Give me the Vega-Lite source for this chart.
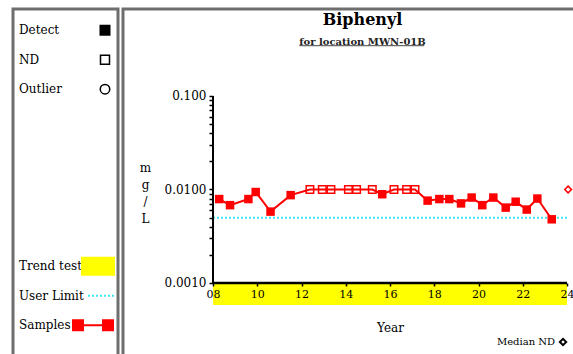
{
  "$schema": "https://vega.github.io/schema/vega-lite/v6.json",
  "padding": {"left": 11, "top": 7, "right": 0, "bottom": 0},
  "bounds": "flush",
  "spacing": 5,
  "background": "white",
  "config": {
    "font": "DejaVu Serif",
    "text": {"font": "DejaVu Serif"},
    "axis": {"labelFont": "DejaVu Serif", "titleFont": "DejaVu Serif"},
    "title": {"font": "DejaVu Serif", "subtitleFont": "DejaVu Serif"},
    "view": {"stroke": "#6e6e6e", "strokeWidth": 3, "fill": "white"}
  },
  "datasets": {
    "samples": [
      {"year": 8.28, "value": 0.0079, "result": "Detect"},
      {"year": 8.77, "value": 0.0068, "result": "Detect"},
      {"year": 9.60, "value": 0.0079, "result": "Detect"},
      {"year": 9.93, "value": 0.0094, "result": "Detect"},
      {"year": 10.60, "value": 0.0058, "result": "Detect"},
      {"year": 11.51, "value": 0.0087, "result": "Detect"},
      {"year": 12.38, "value": 0.0100, "result": "ND"},
      {"year": 12.94, "value": 0.0100, "result": "ND"},
      {"year": 13.33, "value": 0.0100, "result": "ND"},
      {"year": 14.12, "value": 0.0100, "result": "ND"},
      {"year": 14.49, "value": 0.0100, "result": "ND"},
      {"year": 15.20, "value": 0.0100, "result": "ND"},
      {"year": 15.65, "value": 0.0089, "result": "Detect"},
      {"year": 16.18, "value": 0.0100, "result": "ND"},
      {"year": 16.75, "value": 0.0100, "result": "ND"},
      {"year": 17.13, "value": 0.0100, "result": "ND"},
      {"year": 17.70, "value": 0.0076, "result": "Detect"},
      {"year": 18.23, "value": 0.0079, "result": "Detect"},
      {"year": 18.68, "value": 0.0079, "result": "Detect"},
      {"year": 19.21, "value": 0.0071, "result": "Detect"},
      {"year": 19.69, "value": 0.0082, "result": "Detect"},
      {"year": 20.17, "value": 0.0068, "result": "Detect"},
      {"year": 20.67, "value": 0.0082, "result": "Detect"},
      {"year": 21.23, "value": 0.0064, "result": "Detect"},
      {"year": 21.68, "value": 0.0074, "result": "Detect"},
      {"year": 22.18, "value": 0.0061, "result": "Detect"},
      {"year": 22.66, "value": 0.0080, "result": "Detect"},
      {"year": 23.31, "value": 0.0048, "result": "Detect"}
    ],
    "legendItems": [
      {"item": "Detect"}, {"item": "ND"}, {"item": "Outlier"},
      {"item": "Trend test"}, {"item": "User Limit"}, {"item": "Samples"}
    ]
  },
  "hconcat": [
    {
      "width": 105,
      "height": 354,
      "data": {"name": "legendItems"},
      "encoding": {
        "y": {
          "field": "item", "type": "nominal",
          "scale": {"type": "point", "domain": ["Detect", "ND", "Outlier", "s1", "s2", "s3", "s4", "s5", "Trend test", "User Limit", "Samples"], "padding": 1.2, "align": 0.36},
          "axis": null
        }
      },
      "layer": [
        {
          "mark": {"type": "text", "align": "left", "baseline": "middle", "fontSize": 12, "font": "DejaVu Serif", "color": "black"},
          "encoding": {
            "x": {"datum": 6, "type": "quantitative", "scale": {"domain": [0, 105], "nice": false, "zero": false}, "axis": null},
            "text": {"field": "item"}
          }
        },
        {
          "transform": [{"filter": "datum.item == 'Detect'"}],
          "mark": {"type": "point", "shape": "square", "filled": true, "color": "black", "size": 121, "opacity": 1},
          "encoding": {"x": {"datum": 92, "type": "quantitative"}}
        },
        {
          "transform": [{"filter": "datum.item == 'ND'"}],
          "mark": {"type": "point", "shape": "square", "filled": false, "color": "black", "strokeWidth": 1.5, "size": 81, "opacity": 1},
          "encoding": {"x": {"datum": 92, "type": "quantitative"}}
        },
        {
          "transform": [{"filter": "datum.item == 'Outlier'"}],
          "mark": {"type": "point", "shape": "circle", "filled": false, "color": "black", "strokeWidth": 1.5, "size": 90, "opacity": 1},
          "encoding": {"x": {"datum": 92, "type": "quantitative"}}
        },
        {
          "transform": [{"filter": "datum.item == 'Trend test'"}],
          "mark": {"type": "point", "shape": "M-1,-0.56H1V0.56H-1Z", "filled": true, "color": "#ffff00", "size": 1156, "opacity": 1},
          "encoding": {"x": {"datum": 85, "type": "quantitative"}}
        },
        {
          "transform": [{"filter": "datum.item == 'User Limit'"}],
          "mark": {"type": "rule", "color": "#3ee6f2", "strokeWidth": 2, "strokeDash": [2, 2]},
          "encoding": {"x": {"datum": 75, "type": "quantitative"}, "x2": {"datum": 101}}
        },
        {
          "transform": [{"filter": "datum.item == 'Samples'"}],
          "mark": {"type": "rule", "color": "#ff0000", "strokeWidth": 2},
          "encoding": {"x": {"datum": 65, "type": "quantitative"}, "x2": {"datum": 95}}
        },
        {
          "transform": [{"filter": "datum.item == 'Samples'"}],
          "mark": {"type": "point", "shape": "square", "filled": true, "color": "#ff0000", "size": 144, "opacity": 1},
          "encoding": {"x": {"datum": 65, "type": "quantitative"}}
        },
        {
          "transform": [{"filter": "datum.item == 'Samples'"}],
          "mark": {"type": "point", "shape": "square", "filled": true, "color": "#ff0000", "size": 144, "opacity": 1},
          "encoding": {"x": {"datum": 95, "type": "quantitative"}}
        }
      ]
    },
    {
      "width": 455,
      "height": 354,
      "title": {
        "text": "Biphenyl",
        "subtitle": "for location MWN-01B",
        "anchor": "middle",
        "font": "DejaVu Serif",
        "fontSize": 16,
        "fontWeight": "bold",
        "color": "black",
        "subtitleFont": "DejaVu Serif",
        "subtitleFontSize": 10,
        "subtitleFontWeight": "bold",
        "subtitleColor": "#222222",
        "subtitlePadding": 9,
        "offset": -38,
        "dx": 12
      },
      "layer": [
        {
          "data": {"name": "samples"},
          "mark": {"type": "line", "color": "#ff0000", "strokeWidth": 2},
          "encoding": {
            "x": {
              "field": "year", "type": "quantitative",
              "scale": {"domain": [3.932, 24.497], "nice": false, "zero": false},
              "axis": {
                "orient": "bottom", "offset": -80,
                "values": [8, 9, 10, 11, 12, 13, 14, 15, 16, 17, 18, 19, 20, 21, 22, 23, 24],
                "labelExpr": "datum.value % 2 == 0 ? format(datum.value, '02d') : ''",
                "domain": false, "grid": false,
                "tickSize": 3, "tickColor": "black", "tickWidth": 1.5,
                "labelFont": "DejaVu Serif",
                "labelFontSize": 11, "labelColor": "black", "labelPadding": 2,
                "labelFlush": false, "labelOverlap": false,
                "title": "Year", "titleFont": "DejaVu Serif", "titleFontSize": 12, "titleFontWeight": "normal", "titleColor": "black",
                "titleX": 267, "titleY": 39, "titleAlign": "center", "titleBaseline": "top",
                "zindex": 1
              }
            },
            "y": {
              "field": "value", "type": "quantitative",
              "scale": {"type": "log", "domain": [0.0001394, 0.852], "nice": false},
              "axis": {
                "orient": "left", "offset": -90,
                "values": [0.001, 0.002, 0.003, 0.004, 0.005, 0.006, 0.007, 0.008, 0.009, 0.01, 0.02, 0.03, 0.04, 0.05, 0.06, 0.07, 0.08, 0.09, 0.1],
                "labelExpr": "datum.value == 0.1 ? '0.100' : datum.value == 0.01 ? '0.0100' : datum.value == 0.001 ? '0.0010' : ''",
                "domain": false, "grid": false,
                "tickSize": 4, "tickColor": "black", "tickWidth": 1.5,
                "labelFont": "DejaVu Serif",
                "labelFontSize": 12, "labelColor": "black", "labelPadding": 3,
                "labelFlush": false, "labelOverlap": false,
                "title": ["m", "g", "/", "L"], "titleAngle": 0, "titleX": -68, "titleY": 153,
                "titleFont": "DejaVu Serif",
                "titleAlign": "center", "titleBaseline": "top", "titleFontSize": 12,
                "titleFontWeight": "normal", "titleLineHeight": 17, "titleColor": "black",
                "zindex": 1
              }
            }
          }
        },
        {
          "data": {"values": [{"start": 8, "end": 24, "test": "Trend test"}]},
          "mark": {"type": "rect", "color": "#ffff00"},
          "encoding": {
            "x": {"field": "start", "type": "quantitative"},
            "x2": {"field": "end"},
            "y": {"datum": 0.001, "type": "quantitative"},
            "y2": {"datum": 0.000582}
          }
        },
        {
          "data": {"values": [{"limit": 0.005}]},
          "mark": {"type": "rule", "color": "#3ee6f2", "strokeWidth": 2, "strokeDash": [2, 2]},
          "encoding": {
            "y": {"field": "limit", "type": "quantitative"},
            "x": {"datum": 8, "type": "quantitative"},
            "x2": {"datum": 24}
          }
        },
        {
          "data": {"values": [{}]},
          "mark": {"type": "rule", "color": "black", "strokeWidth": 2},
          "encoding": {
            "x": {"datum": 8, "type": "quantitative"},
            "y": {"datum": 0.001, "type": "quantitative"},
            "y2": {"datum": 0.1}
          }
        },
        {
          "data": {"values": [{}]},
          "mark": {"type": "rule", "color": "black", "strokeWidth": 2.5},
          "encoding": {
            "x": {"datum": 8, "type": "quantitative"},
            "x2": {"datum": 24},
            "y": {"datum": 0.001, "type": "quantitative"}
          }
        },
        {
          "data": {"name": "samples"},
          "transform": [{"filter": "datum.result == 'Detect'"}],
          "mark": {"type": "point", "shape": "square", "filled": true, "color": "#ff0000", "size": 72, "opacity": 1},
          "encoding": {
            "x": {"field": "year", "type": "quantitative"},
            "y": {"field": "value", "type": "quantitative"}
          }
        },
        {
          "data": {"name": "samples"},
          "transform": [{"filter": "datum.result == 'ND'"}],
          "mark": {"type": "point", "shape": "square", "filled": false, "color": "#ff0000", "strokeWidth": 1.5, "size": 56, "opacity": 1},
          "encoding": {
            "x": {"field": "year", "type": "quantitative"},
            "y": {"field": "value", "type": "quantitative"}
          }
        },
        {
          "data": {"values": [{"year": 24.05, "value": 0.01, "label": "Median ND"}]},
          "mark": {"type": "point", "shape": "diamond", "filled": false, "color": "#ff0000", "strokeWidth": 1.5, "size": 45, "opacity": 1},
          "encoding": {
            "x": {"field": "year", "type": "quantitative"},
            "y": {"field": "value", "type": "quantitative"}
          }
        },
        {
          "data": {"values": [{"label": "Median ND"}]},
          "mark": {"type": "text", "align": "right", "baseline": "middle", "fontSize": 10, "font": "DejaVu Serif", "color": "black"},
          "encoding": {
            "x": {"datum": 23.46, "type": "quantitative"},
            "y": {"datum": 0.000234, "type": "quantitative"},
            "text": {"field": "label"}
          }
        },
        {
          "data": {"values": [{"label": "Median ND"}]},
          "mark": {"type": "point", "shape": "diamond", "filled": false, "color": "black", "strokeWidth": 2, "size": 40, "opacity": 1},
          "encoding": {
            "x": {"datum": 23.82, "type": "quantitative"},
            "y": {"datum": 0.000234, "type": "quantitative"}
          }
        },
        {
          "data": {"values": [{}]},
          "mark": {"type": "rule", "color": "#444444", "strokeWidth": 1},
          "encoding": {
            "x": {"datum": 11.9, "type": "quantitative"},
            "x2": {"datum": 17.55},
            "y": {"datum": 0.345, "type": "quantitative"}
          }
        }
      ]
    }
  ]
}
